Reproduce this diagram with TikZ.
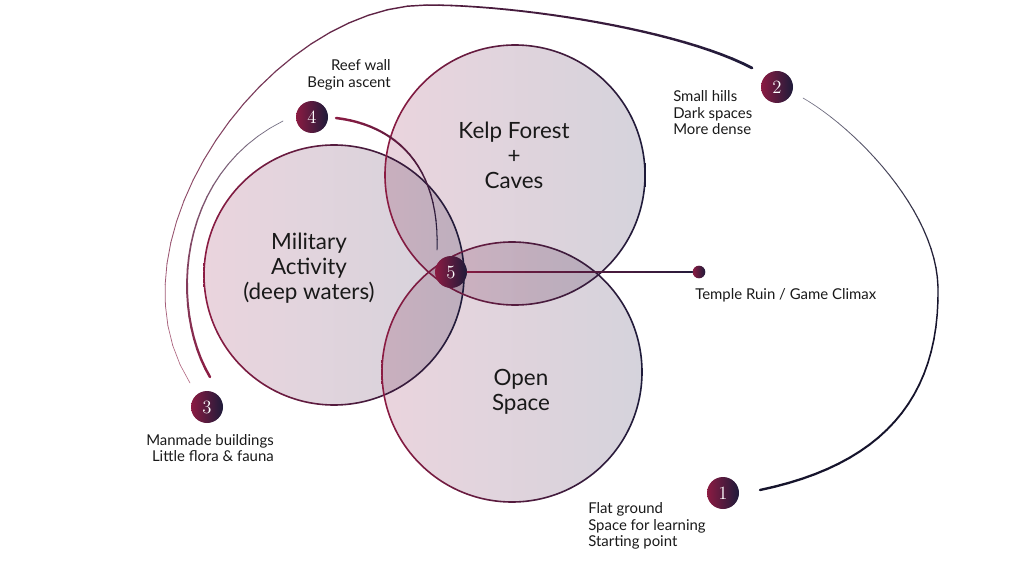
\documentclass[tikz,border=0pt]{standalone}
\usepackage{fontspec}
\setsansfont{Lato}
\usetikzlibrary{calc}
\definecolor{crimson}{RGB}{139,27,66}
\definecolor{navy}{RGB}{30,27,58}
\definecolor{pinkfill}{RGB}{234,212,221}
\definecolor{greyfill}{RGB}{213,211,220}
\colorlet{rose}{crimson!65}
\colorlet{plum}{crimson!50!navy}
\colorlet{mist}{navy!60}
\colorlet{ink}{navy!75!black}
\tikzset{
  stage/.style={circle, minimum size=24pt, inner sep=0pt, left color=crimson, right color=navy, text=white, font=\fontsize{14}{16}\selectfont},
  climax/.style={circle, minimum size=9.5pt, inner sep=0pt, left color=crimson, right color=navy},
  zone/.style={left color=pinkfill, right color=greyfill, blend mode=multiply},
  rim/.style={left color=crimson, right color=navy, even odd rule},
  note/.style={font=\sffamily\fontsize{11.2}{12.4}\selectfont, inner sep=0pt, text=black!90},
  title/.style={font=\sffamily\fontsize{16.8}{18.75}\selectfont, align=center, inner sep=0pt, text=black!90},
}
% tapered curve with a colour run: start, control, control, end, colours, widths
\newcommand{\fadecurve}[8]{%
  \path #1 .. controls #2 and #3 .. #4
    \foreach \k in {0,...,24}{coordinate[pos=\k/24] (fc\k)};
  \foreach \k in {1,...,24}{%
    \pgfmathtruncatemacro{\j}{\k-1}%
    \pgfmathsetmacro{\pct}{100-100*(\k-0.5)/24}%
    \pgfmathsetmacro{\lw}{#7+(#8-#7)*(\k-0.5)/24}%
    \draw[line width=\lw pt, line cap=round, #5!\pct!#6] (fc\j) -- (fc\k);
  }%
}
\begin{document}
\begin{tikzpicture}[x=0.75pt, y=-0.75pt]
  \useasboundingbox (0,0) rectangle (1024,563);

  % the three zones
  \coordinate (military) at (334,275);
  \coordinate (kelp) at (515,175);
  \coordinate (open) at (512,372);
  \foreach \z in {military,kelp,open}
    \shade[zone] (\z) circle (130);
  \foreach \z in {military,kelp,open}
    \shade[rim] (\z) circle (130.8) (\z) circle (129.2);

  \node[title] (kelptext) at (514,155) {Kelp Forest\\+\\Caves};
  \node[title] (miltext)  at (309,268) {Military\\Activity\\(deep waters)};
  \node[title] (opentext) at (521,392) {Open\\Space};

  % stages
  \node[stage] (n1) at (723,493) {1};
  \node[stage] (n2) at (777,87) {2};
  \node[stage] (n3) at (207,407) {3};
  \node[stage] (n4) at (312,117) {4};
  \node[stage] (n5) at (451,272) {5};
  \node[climax] (ruin) at (699,272) {};

  \node[note, anchor=west, align=left]  (note1) at (588,526) {Flat ground\\Space for learning\\Starting point};
  \node[note, anchor=west, align=left]  (note2) at (673,113) {Small hills\\Dark spaces\\More dense};
  \node[note, anchor=east, align=right] (note3) at (274,448) {Manmade buildings\\Little flora \& fauna};
  \node[note, anchor=east, align=right] (note4) at (391,75) {Reef wall\\Begin ascent};
  \node[note, anchor=west] (noteruin) at (695,295) {Temple Ruin / Game Climax};

  % route ends
  \coordinate (out1) at (760,490);
  \coordinate (out2) at (803,98);
  \coordinate (in2)  at (752,68);
  \coordinate (top)  at (427,5);
  \coordinate (far)  at (938,287);
  \coordinate (out3) at (190,383);
  \coordinate (up3)  at (210,377);
  \coordinate (in4)  at (283,121);
  \coordinate (out4) at (336,118);
  \coordinate (in5)  at (437,250);

  % 1 -> 2 (drawn from 2 down to 1)
  \fadecurve{(out2)}{(855,128)}{(936,210)}{(far)}{mist}{ink}{0.45}{1.05}
  \fadecurve{(far)}{(940,400)}{(880,465)}{(out1)}{ink}{ink}{1.05}{1.8}
  % 2 -> 3 (drawn from 3 over the top to 2)
  \fadecurve{(out3)}{(100,240)}{(270,5)}{(top)}{rose}{plum}{0.45}{1.1}
  \fadecurve{(top)}{(520,5)}{(680,30)}{(in2)}{plum}{navy}{1.1}{2.1}
  % 3 -> 4
  \fadecurve{(up3)}{(170,310)}{(175,175)}{(in4)}{crimson}{mist}{1.9}{0.5}
  % 4 -> 5
  \fadecurve{(out4)}{(395,125)}{(440,165)}{(in5)}{crimson}{navy}{1.9}{0.7}
  % 5 -> temple ruin
  \fadecurve{(n5.east)}{(n5.east)}{(ruin.west)}{(ruin.west)}{crimson}{navy}{1.5}{1.5}
\end{tikzpicture}
\end{document}
